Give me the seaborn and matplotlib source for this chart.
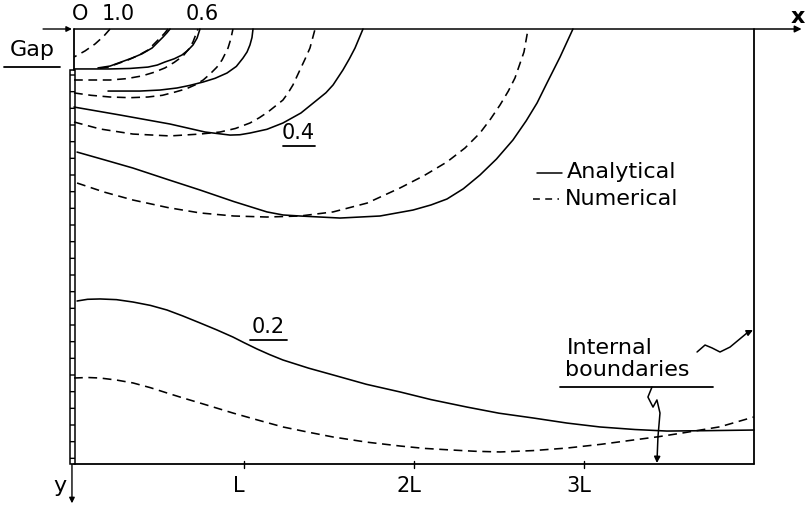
import matplotlib
matplotlib.use("Agg")
import matplotlib.pyplot as plt
import pandas as pd
import seaborn as sns
from matplotlib.patches import Rectangle

sns.set_theme(style="white")
plt.rcParams['font.family'] = ['DejaVu Sans']
plt.rcParams['text.color'] = 'black'
plt.rcParams['hatch.linewidth'] = 1.0

# Equipotential curves: x along the surface and depth y, both in units of L.
# Innermost group near the gap
a_num_x = [0.212, 0.176, 0.124, 0.065, 0.0]
a_num_y = [0.0, 0.041, 0.088, 0.129, 0.165]

b_ana_x = [0.565, 0.547, 0.524, 0.459, 0.40, 0.341, 0.212, 0.141]
b_ana_y = [0.0, 0.022, 0.047, 0.112, 0.146, 0.171, 0.218, 0.229]
b_num_x = [0.553, 0.532, 0.506, 0.435, 0.375, 0.318, 0.2, 0.129]
b_num_y = [0.0, 0.026, 0.053, 0.124, 0.157, 0.182, 0.224, 0.235]

c_ana_x = [0.0, 0.212, 0.33, 0.435, 0.49, 0.535, 0.59, 0.635, 0.67, 0.7, 0.724, 0.741]
c_ana_y = [0.235, 0.235, 0.232, 0.224, 0.212, 0.194, 0.175, 0.153, 0.125, 0.094, 0.053, 0.0]
c_num_x = [0.0, 0.212, 0.31, 0.4, 0.47, 0.535, 0.59, 0.641, 0.675, 0.7, 0.729]
c_num_y = [0.3, 0.3, 0.292, 0.276, 0.255, 0.229, 0.196, 0.159, 0.118, 0.076, 0.0]

d_ana_x = [0.2, 0.388, 0.506, 0.606, 0.68, 0.759, 0.83, 0.9, 0.955, 0.994, 1.018, 1.035, 1.047, 1.053]
d_ana_y = [0.365, 0.365, 0.359, 0.347, 0.332, 0.312, 0.29, 0.259, 0.22, 0.171, 0.135, 0.094, 0.05, 0.0]
d_num_x = [0.0, 0.1, 0.212, 0.33, 0.435, 0.52, 0.594, 0.66, 0.712, 0.76, 0.8, 0.84, 0.871, 0.906, 0.922, 0.935]
d_num_y = [0.376, 0.39, 0.4, 0.404, 0.4, 0.39, 0.371, 0.352, 0.329, 0.3, 0.265, 0.225, 0.182, 0.112, 0.06, 0.0]

# 0.4 group
e_ana_x = [0.0, 0.271, 0.565, 0.771, 0.918, 0.976, 1.035, 1.135, 1.229, 1.335, 1.429,
           1.482, 1.524, 1.582, 1.62, 1.653, 1.7]
e_ana_y = [0.459, 0.506, 0.559, 0.606, 0.624, 0.622, 0.612, 0.59, 0.553, 0.494, 0.418,
           0.375, 0.329, 0.241, 0.175, 0.112, 0.0]
e_num_x = [0.0, 0.153, 0.347, 0.565, 0.741, 0.859, 0.95, 1.035, 1.09, 1.141, 1.229,
           1.26, 1.288, 1.329, 1.36, 1.388, 1.418]
e_num_y = [0.547, 0.588, 0.618, 0.629, 0.618, 0.606, 0.585, 0.553, 0.522, 0.488, 0.418,
           0.375, 0.329, 0.241, 0.175, 0.112, 0.0]

f_ana_x = [0.018, 0.18, 0.347, 0.55, 0.741, 0.94, 1.135, 1.23, 1.329, 1.565, 1.8, 1.994,
           2.1, 2.194, 2.29, 2.388, 2.485, 2.582, 2.66, 2.724, 2.782, 2.859, 2.935]
f_ana_y = [0.724, 0.77, 0.818, 0.885, 0.947, 1.015, 1.076, 1.094, 1.1, 1.112, 1.1, 1.065,
           1.035, 1.0, 0.94, 0.859, 0.765, 0.653, 0.54, 0.435, 0.318, 0.165, 0.0]
f_num_x = [0.018, 0.18, 0.347, 0.55, 0.741, 0.94, 1.135, 1.329, 1.524, 1.724, 1.918, 2.06,
           2.194, 2.3, 2.388, 2.45, 2.506, 2.555, 2.594, 2.647, 2.671]
f_num_y = [0.906, 0.96, 1.006, 1.05, 1.082, 1.1, 1.106, 1.1, 1.076, 1.024, 0.935, 0.862,
           0.782, 0.7, 0.612, 0.53, 0.447, 0.365, 0.288, 0.135, 0.0]

# 0.2 curves
g_ana_x = [0.018, 0.08, 0.153, 0.25, 0.347, 0.45, 0.547, 0.64, 0.741, 0.84, 0.935, 1.0,
           1.076, 1.15, 1.229, 1.38, 1.524, 1.72, 1.918, 2.1, 2.312, 2.5, 2.7, 2.9,
           3.094, 3.3, 3.488, 3.7, 4.0]
g_ana_y = [1.6, 1.59, 1.588, 1.592, 1.606, 1.626, 1.653, 1.688, 1.729, 1.77, 1.812, 1.845,
           1.882, 1.915, 1.947, 1.995, 2.035, 2.09, 2.135, 2.18, 2.224, 2.26, 2.288, 2.318,
           2.341, 2.356, 2.365, 2.363, 2.359]
g_num_x = [0.0, 0.08, 0.153, 0.25, 0.347, 0.45, 0.547, 0.64, 0.741, 0.84, 0.935, 1.08,
           1.229, 1.38, 1.524, 1.72, 1.918, 2.06, 2.212, 2.36, 2.506, 2.7, 2.9, 3.1,
           3.288, 3.44, 3.582, 3.8, 4.0]
g_num_y = [2.053, 2.05, 2.053, 2.065, 2.082, 2.11, 2.141, 2.17, 2.2, 2.23, 2.259, 2.3,
           2.341, 2.372, 2.4, 2.43, 2.453, 2.467, 2.476, 2.484, 2.488, 2.48, 2.465, 2.443,
           2.418, 2.398, 2.376, 2.34, 2.282]

curve_table = [
    ("a_num", "Numerical", a_num_x, a_num_y),
    ("b_ana", "Analytical", b_ana_x, b_ana_y),
    ("b_num", "Numerical", b_num_x, b_num_y),
    ("c_ana", "Analytical", c_ana_x, c_ana_y),
    ("c_num", "Numerical", c_num_x, c_num_y),
    ("d_ana", "Analytical", d_ana_x, d_ana_y),
    ("d_num", "Numerical", d_num_x, d_num_y),
    ("e_ana", "Analytical", e_ana_x, e_ana_y),
    ("e_num", "Numerical", e_num_x, e_num_y),
    ("f_ana", "Analytical", f_ana_x, f_ana_y),
    ("f_num", "Numerical", f_num_x, f_num_y),
    ("g_ana", "Analytical", g_ana_x, g_ana_y),
    ("g_num", "Numerical", g_num_x, g_num_y),
]

# Domain and axis labels
domain_width = 4.0
domain_depth = 2.56
gap_bottom = 0.241
tick_positions = [1.0, 2.0, 3.0]
tick_labels = ["L", "2L", "3L"]
top_labels = ["O", "1.0", "0.6"]
top_label_x = [0.035, 0.259, 0.753]

# Pointer lines for the "Internal boundaries" note
squiggle_low_x = [3.4, 3.376, 3.406, 3.429, 3.447, 3.435, 3.429]
squiggle_low_y = [2.106, 2.165, 2.224, 2.182, 2.259, 2.4, 2.553]
squiggle_right_x = [3.665, 3.712, 3.753, 3.8, 3.859, 3.959, 3.994]
squiggle_right_y = [1.9, 1.859, 1.876, 1.9, 1.871, 1.788, 1.771]

frames = []
for name, method, xs, ys in curve_table:
    frames.append(pd.DataFrame({"x": xs, "y": ys, "curve": name, "method": method}))
df = pd.concat(frames, ignore_index=True)

fig = plt.figure(figsize=(8.06, 5.05), dpi=100)
ax = fig.add_axes([0, 0, 1, 1])
ax.set_xlim(-0.4353, 4.3059)
ax.set_ylim(2.8, -0.1706)
ax.axis("off")

sns.lineplot(data=df, x="x", y="y", units="curve", style="method",
             estimator=None, sort=False, color="black", linewidth=1.15,
             dashes={"Analytical": "", "Numerical": (5.5, 3.5)},
             legend=False, ax=ax)

lk = dict(color="black", linewidth=1.3)
fs = 16
# surface (x axis) with arrow
ax.annotate("", xy=(4.28, 0.0), xytext=(0.0, 0.0),
            arrowprops=dict(arrowstyle="-|>", color="black", lw=1.1,
                            mutation_scale=10, shrinkA=0, shrinkB=0))
ax.text(4.255, -0.07, "x", fontsize=fs, ha="center", va="center", fontweight="bold")
# gap pointer
ax.annotate("", xy=(-0.012, 0.0), xytext=(-0.182, 0.0),
            arrowprops=dict(arrowstyle="-|>", color="black", lw=1.0,
                            mutation_scale=8, shrinkA=0, shrinkB=0))
ax.text(-0.245, 0.125, "Gap", fontsize=fs, ha="center", va="center")
ax.plot([-0.41, -0.08], [0.224, 0.224], **lk)

# left boundary: open gap then hatched wall
ax.plot([0.0, 0.0], [0.0, gap_bottom], **lk)
ax.add_patch(Rectangle((-0.024, gap_bottom), 0.03, domain_depth - gap_bottom,
                       facecolor="white", edgecolor="black", lw=1.1, hatch="-"))
# depth axis arrow
ax.annotate("", xy=(-0.012, 2.79), xytext=(-0.012, domain_depth),
            arrowprops=dict(arrowstyle="-|>", color="black", lw=1.0,
                            mutation_scale=8, shrinkA=0, shrinkB=0))
ax.text(-0.08, 2.69, "y", fontsize=fs, ha="center", va="center")

# bottom and right internal boundaries
ax.plot([0.0, domain_width], [domain_depth, domain_depth], **lk)
ax.plot([domain_width, domain_width], [0.0, domain_depth], **lk)
for tx, tl in zip(tick_positions, tick_labels):
    ax.plot([tx, tx], [domain_depth - 0.02, domain_depth + 0.02], color="black", lw=1.0)
    ax.text(tx - 0.03, 2.69, tl, fontsize=fs - 1, ha="center", va="center")

for tx, tl in zip(top_label_x, top_labels):
    ax.text(tx, -0.09, tl, fontsize=fs - 1, ha="center", va="center")

# contour value labels
ax.text(1.318, 0.61, "0.4", fontsize=fs - 1, ha="center", va="center")
ax.plot([1.229, 1.418], [0.688, 0.688], **lk)
ax.text(1.141, 1.75, "0.2", fontsize=fs - 1, ha="center", va="center")
ax.plot([1.035, 1.253], [1.829, 1.829], **lk)

# key
ax.plot([2.724, 2.871], [0.847, 0.847], color="black", lw=1.1)
ax.text(2.9, 0.841, "Analytical", fontsize=fs, ha="left", va="center")
ax.plot([2.7, 2.853], [1.0, 1.0], color="black", lw=1.1, dashes=(4.5, 3.5))
ax.text(2.888, 1.0, "Numerical", fontsize=fs, ha="left", va="center")

# internal boundaries note
ax.text(2.9, 1.875, "Internal", fontsize=fs, ha="left", va="center")
ax.text(2.888, 2.005, "boundaries", fontsize=fs, ha="left", va="center")
ax.plot([2.859, 3.759], [2.106, 2.106], **lk)
ax.plot(squiggle_low_x[:-1], squiggle_low_y[:-1], color="black", lw=1.1)
ax.annotate("", xy=(squiggle_low_x[-1], squiggle_low_y[-1]),
            xytext=(squiggle_low_x[-2], squiggle_low_y[-2]),
            arrowprops=dict(arrowstyle="-|>", color="black", lw=1.1,
                            mutation_scale=9, shrinkA=0, shrinkB=0))
ax.plot(squiggle_right_x[:-1], squiggle_right_y[:-1], color="black", lw=1.1)
ax.annotate("", xy=(squiggle_right_x[-1], squiggle_right_y[-1]),
            xytext=(squiggle_right_x[-2], squiggle_right_y[-2]),
            arrowprops=dict(arrowstyle="-|>", color="black", lw=1.1,
                            mutation_scale=9, shrinkA=0, shrinkB=0))

fig.savefig("out.png", dpi=100, facecolor="white")
